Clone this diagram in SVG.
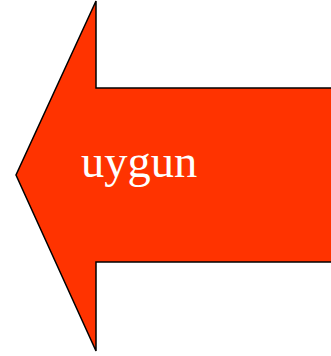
<svg xmlns="http://www.w3.org/2000/svg" width="331" height="356" viewBox="0 0 331 356">
<style>
.arrow{fill:#FF3300;stroke:#000;stroke-width:1.5;stroke-linejoin:miter}
.lbl{fill:#fff;font-family:"Liberation Serif","Times New Roman",serif;font-size:46.5px}
</style>
<rect width="331" height="356" fill="#fff"/>
<g id="arrow">
<path class="arrow" d="M340,88 L96,88 L96,1 L16,175 L96,351 L96,262 L340,262"/>
<text class="lbl" x="81" y="177">uygun</text>
</g>
</svg>
